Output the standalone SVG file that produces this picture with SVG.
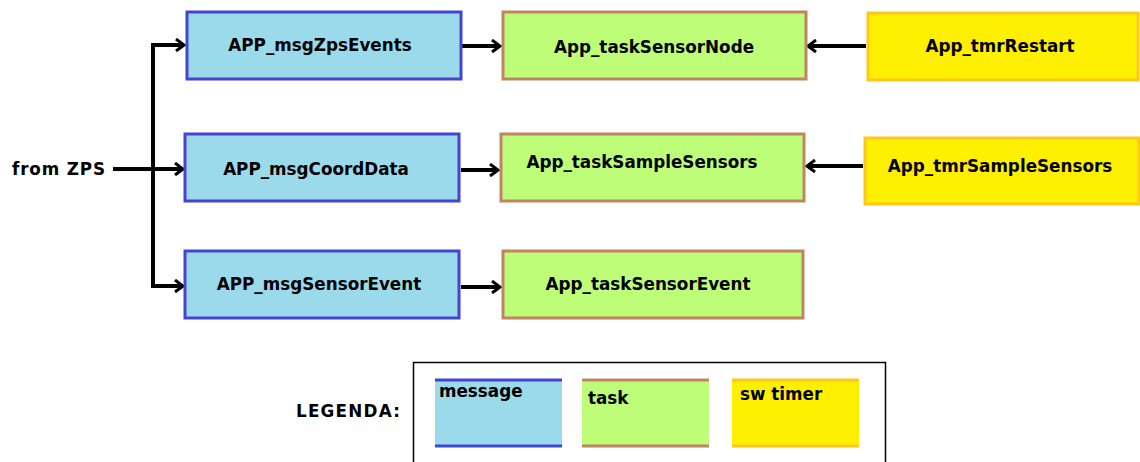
<svg xmlns="http://www.w3.org/2000/svg" width="1140" height="462" viewBox="0 0 1140 462">
<style>
.msg{fill:#9bdaea;stroke:#4444d4;stroke-width:3}
.task{fill:#bdfd78;stroke:#c08462;stroke-width:3}
.tmr{fill:#fff000;stroke:#ffc61e;stroke-width:3}
.lbl{font-family:"Comic Sans MS","DejaVu Sans",sans-serif;font-size:16.8px;font-weight:bold;fill:#000}
.c{text-anchor:middle}
.conn{stroke:#000;stroke-width:4;fill:none}
</style>
<defs>
<marker id="arr" markerWidth="12" markerHeight="14" refX="10" refY="7" orient="auto" markerUnits="userSpaceOnUse">
<path d="M2,1 L10,7 L2,13" fill="none" stroke="#000" stroke-width="3"/>
</marker>
</defs>
<g id="connectors">
<line class="conn" x1="113" y1="169" x2="155" y2="169"/>
<line class="conn" x1="153" y1="43" x2="153" y2="288"/>
<line class="conn" x1="151" y1="45" x2="184" y2="45" marker-end="url(#arr)"/>
<line class="conn" x1="153" y1="169" x2="183" y2="169" marker-end="url(#arr)"/>
<line class="conn" x1="151" y1="286" x2="183" y2="286" marker-end="url(#arr)"/>
<line class="conn" x1="462" y1="46" x2="500" y2="46" marker-end="url(#arr)"/>
<line class="conn" x1="461" y1="170" x2="498" y2="170" marker-end="url(#arr)"/>
<line class="conn" x1="461" y1="287" x2="500" y2="287" marker-end="url(#arr)"/>
<line class="conn" x1="866" y1="46" x2="808" y2="46" marker-end="url(#arr)"/>
<line class="conn" x1="863" y1="166" x2="807" y2="166" marker-end="url(#arr)"/>
</g>
<g id="from-zps"><text class="lbl" x="12" y="175" textLength="93">from ZPS</text></g>
<g id="msgZpsEvents"><rect class="msg" x="187" y="12" width="274" height="67"/><text class="lbl c" x="320" y="51">APP_msgZpsEvents</text></g>
<g id="msgCoordData"><rect class="msg" x="185" y="134" width="274" height="67"/><text class="lbl c" x="316" y="175">APP_msgCoordData</text></g>
<g id="msgSensorEvent"><rect class="msg" x="185" y="251" width="274" height="67"/><text class="lbl c" x="319" y="290">APP_msgSensorEvent</text></g>
<g id="taskSensorNode"><rect class="task" x="503" y="12" width="303" height="67"/><text class="lbl c" x="654" y="53">App_taskSensorNode</text></g>
<g id="taskSampleSensors"><rect class="task" x="501" y="134" width="303" height="67"/><text class="lbl c" x="642" y="168">App_taskSampleSensors</text></g>
<g id="taskSensorEvent"><rect class="task" x="503" y="251" width="300" height="67"/><text class="lbl c" x="648" y="290">App_taskSensorEvent</text></g>
<g id="tmrRestart"><rect class="tmr" x="868" y="13" width="270" height="67"/><text class="lbl c" x="1000" y="52">App_tmrRestart</text></g>
<g id="tmrSampleSensors"><rect class="tmr" x="865" y="138" width="274" height="66"/><text class="lbl c" x="1000" y="172">App_tmrSampleSensors</text></g>
<g id="legend">
<text class="lbl" x="296" y="417" textLength="104">LEGENDA:</text>
<rect x="413.5" y="362.5" width="472" height="110" fill="#fff" stroke="#000" stroke-width="1.5"/>
<rect x="435" y="379" width="127" height="68" fill="#9bdaea"/>
<line x1="435" y1="380" x2="562" y2="380" stroke="#4444d4" stroke-width="3"/>
<line x1="435" y1="446" x2="562" y2="446" stroke="#4444d4" stroke-width="3"/>
<text class="lbl" x="439" y="397">message</text>
<rect x="582" y="379" width="127" height="68" fill="#bdfd78"/>
<line x1="582" y1="380" x2="709" y2="380" stroke="#c08462" stroke-width="3"/>
<line x1="582" y1="446" x2="709" y2="446" stroke="#c08462" stroke-width="3"/>
<text class="lbl" x="588" y="404">task</text>
<rect x="732" y="379" width="127" height="68" fill="#fff000"/>
<line x1="732" y1="380" x2="859" y2="380" stroke="#ffc61e" stroke-width="3"/>
<line x1="732" y1="446" x2="859" y2="446" stroke="#ffc61e" stroke-width="3"/>
<text class="lbl" x="740" y="400">sw timer</text>
</g>
</svg>
